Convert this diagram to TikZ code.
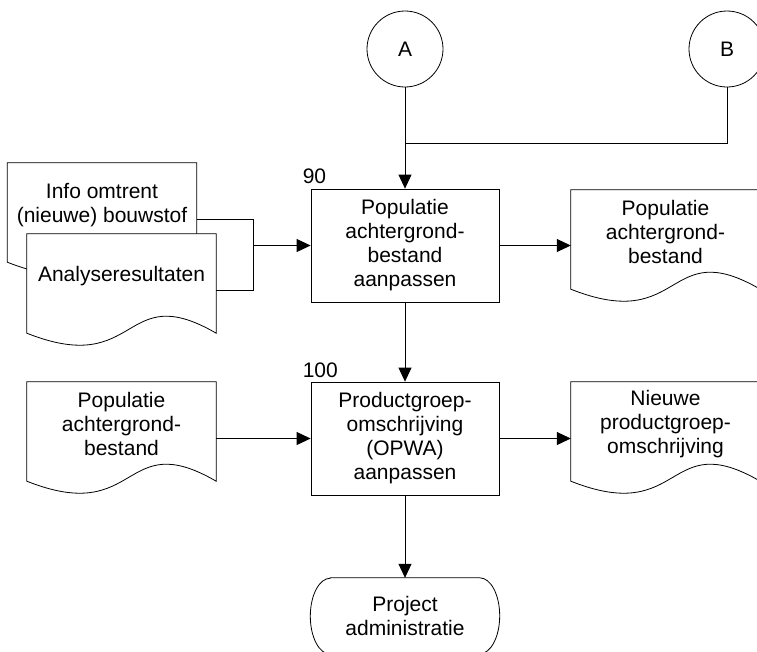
\documentclass[tikz,border=0pt]{standalone}
\usepackage{fontspec}
\setmainfont{Liberation Sans}
\usetikzlibrary{arrows.meta,backgrounds}
\tikzset{
  ln/.style={line width=0.8pt, draw=black},
  arr/.style={ln, -{Triangle[length=14pt,width=13pt]}},
  procbox/.style={draw, line width=0.8pt, rectangle, minimum width=188pt, minimum height=113pt, inner sep=0pt, align=center},
  docbox/.style={rectangle, minimum width=189pt, minimum height=84pt, inner sep=0pt, align=center},
  connector/.style={draw, line width=0.8pt, circle, minimum size=76pt, inner sep=0pt},
  termbox/.style={rectangle, minimum width=189pt, minimum height=76pt, inner sep=0pt, align=center},
  numlabel/.style={anchor=base west, inner sep=0pt},
  docline/.style={line width=0.8pt, draw=black, fill=white},
}
\newcommand\docoutline[1]{%
  \begin{pgfonlayer}{background}
  \draw[docline] (#1.north west) -- (#1.north east) -- ([yshift=-15pt]#1.south east)
    .. controls ([yshift=40pt]#1.south) and ([xshift=18.9pt,yshift=-60pt]#1.south) .. ([yshift=-15pt]#1.south west) -- cycle;
  \end{pgfonlayer}}
\begin{document}
\begin{tikzpicture}[x=1pt,y=1pt,font=\fontsize{21}{24}\selectfont]
\useasboundingbox (0,0) rectangle (757,-651);
% connectors (off-page)
\node[connector] (A) at (405,-49) {A};
\node[connector] (B) at (727,-49) {B};
% process boxes
\node[procbox] (b90) at (405,-245.5) {Populatie\\achtergrond-\\bestand\\aanpassen};
\node[procbox] (b100) at (405,-438.5) {Productgroep-\\omschrijving\\(OPWA)\\aanpassen};
\node[numlabel] (l90) at ([xshift=-8pt,yshift=5pt]b90.north west) {90};
\node[numlabel] (l100) at ([xshift=-8pt,yshift=4pt]b100.north west) {100};
% terminator
\node[termbox] (term) at (405,-616) {Project\\administratie};
\draw[ln] ([xshift=20pt]term.north west) -- ([xshift=-20pt]term.north east)
  arc[start angle=90,end angle=-90,x radius=20pt,y radius=38pt]
  -- ([xshift=20pt]term.south west)
  arc[start angle=270,end angle=90,x radius=20pt,y radius=38pt] -- cycle;
% documents
\node[docbox] (dInfo) at (102,-205) {Info omtrent\\(nieuwe) bouwstof};
\node[docbox] (dAna) at (121.5,-276) {Analyseresultaten};
\node[docbox] (dL2) at (121.5,-424) {Populatie\\achtergrond-\\bestand};
\node[docbox] (dR1) at (665.5,-232) {Populatie\\achtergrond-\\bestand};
\node[docbox] (dR2) at (665.5,-424) {Nieuwe\\productgroep-\\omschrijving};
\docoutline{dInfo}
\docoutline{dAna}
\docoutline{dL2}
\docoutline{dR1}
\docoutline{dR2}
% junctions
\coordinate (j) at (405,-143);
\coordinate (jl) at (253,-245.5);
% flows
\draw[arr] (A.south) -- (b90.north);
\draw[ln] (B.south) |- (j);
\draw[ln] ([yshift=-14pt]dInfo.east) -| (jl);
\draw[ln] ([yshift=-14pt]dAna.east) -| (jl);
\draw[arr] (jl) -- (b90.west);
\draw[arr] (b90.east) -- (b90.east -| dR1.west);
\draw[arr] (b90.south) -- (b100.north);
\draw[arr] (b100.west -| dL2.east) -- (b100.west);
\draw[arr] (b100.east) -- (b100.east -| dR2.west);
\draw[arr] (b100.south) -- (term.north);
\end{tikzpicture}
\end{document}
